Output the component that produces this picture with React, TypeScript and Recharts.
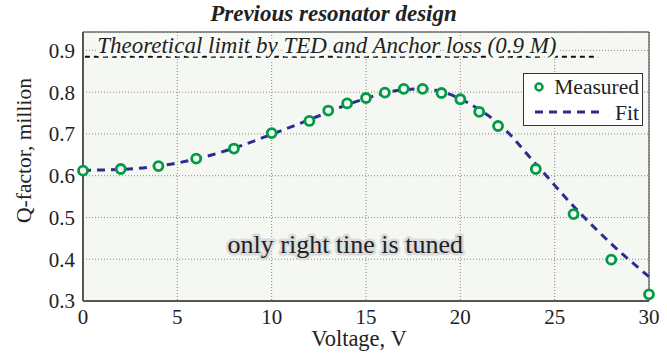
import React from 'react';
import { ComposedChart, Line, XAxis, YAxis, CartesianGrid, ReferenceLine, ReferenceDot } from 'recharts';

const voltages = [0, 2, 4, 6, 8, 10, 12, 13, 14, 15, 16, 17, 18, 19, 20, 21, 22, 24, 26, 28, 30];
const measured = [0.612, 0.616, 0.623, 0.641, 0.665, 0.702, 0.731, 0.756, 0.773, 0.786, 0.799, 0.808, 0.808, 0.798, 0.783, 0.753, 0.719, 0.616, 0.508, 0.399, 0.316];
const fit = [0.613, 0.615, 0.623, 0.640, 0.666, 0.699, 0.734, 0.752, 0.770, 0.785, 0.798, 0.806, 0.808, 0.801, 0.784, 0.758, 0.726, 0.628, 0.527, 0.437, 0.358];
const xTicks = [0, 5, 10, 15, 20, 25, 30];
const yTicks = [0.3, 0.4, 0.5, 0.6, 0.7, 0.8, 0.9];
const limitValue = 0.885;
const limitStart = 0.1;
const limitEnd = 27.3;

const data = voltages.map((v, i) => ({ v, measured: measured[i], fit: fit[i] }));

const GREEN = '#009a48';
const NAVY = '#2d2d8f';
const FONT = "'Liberation Serif', 'Times New Roman', serif";

const LegendBox = () => (
  <div style={{ position: 'absolute', left: 523, top: 73, width: 120, height: 53, background: '#fff', border: '1px solid #333', boxSizing: 'border-box' }}>
    <svg width={118} height={51} style={{ position: 'absolute', left: 0, top: 0 }}>
      <circle cx={15} cy={13} r={3.5} fill="#fff" stroke={GREEN} strokeWidth={2.5} />
      <line x1={11} x2={78} y1={38} y2={38} stroke={NAVY} strokeWidth={3} strokeDasharray="8 6" />
      <text x={115} y={20} textAnchor="end" fontFamily={FONT} fontSize={21.5} fill="#222">Measured</text>
      <text x={115} y={46} textAnchor="end" fontFamily={FONT} fontSize={21.5} fill="#222">Fit</text>
    </svg>
  </div>
);

const YTitle = (props: any) => {
  const vb = props.viewBox || { x: 0, y: 0, width: 0, height: 0 };
  const cx = vb.x - 9;
  const cy = vb.y + vb.height / 2 - 16;
  return (
    <text x={cx} y={cy} transform={`rotate(-90, ${cx}, ${cy})`} textAnchor="middle" dominantBaseline="central" fontFamily={FONT} fontSize={21.5} fill="#222">
      Q-factor, million
    </text>
  );
};

export default function App() {
  return (
    <div style={{ position: 'absolute', left: 0, top: 0, width: 667, height: 354, background: '#fff' }}>
      <div style={{ position: 'absolute', left: 0, top: 0, width: 667, textAlign: 'center', fontFamily: FONT, fontSize: 23, lineHeight: '28px', fontWeight: 'bold', fontStyle: 'italic', color: '#222' }}>
        Previous resonator design
      </div>
      <ComposedChart width={667} height={354} data={data} margin={{ top: 32, right: 18, bottom: 23, left: 33 }} style={{ position: 'absolute', left: 0, top: 0 }}>
        <CartesianGrid fill="#f5f8f2" stroke="#888" strokeDasharray="1 2" vertical={true} horizontal={true} />
        <XAxis
          dataKey="v"
          type="number"
          domain={[0, 30]}
          ticks={xTicks}
          height={30}
          tickLine={false}
          tickSize={6}
          tickMargin={2}
          axisLine={{ stroke: '#555', strokeWidth: 2 }}
          tick={{ fill: '#222', fontFamily: FONT, fontSize: 21 }}
          label={{ value: 'Voltage, V', position: 'bottom', offset: -1, fontFamily: FONT, fontSize: 22.5, fill: '#222', dx: -7 }}
        />
        <YAxis
          type="number"
          domain={[0.3, 0.944]}
          ticks={yTicks}
          width={50}
          tickLine={false}
          tickSize={6}
          tickMargin={2}
          allowDataOverflow={true}
          axisLine={{ stroke: '#555', strokeWidth: 2 }}
          tickFormatter={(t: number) => t.toFixed(1)}
          tick={{ fill: '#222', fontFamily: FONT, fontSize: 21 }}
          label={<YTitle />}
        />
        <ReferenceLine y={0.944} stroke="#333" strokeWidth={1} />
        <ReferenceLine x={30} stroke="#333" strokeWidth={1} />
        <ReferenceLine
          segment={[{ x: limitStart, y: limitValue }, { x: limitEnd, y: limitValue }]}
          stroke="#111"
          strokeWidth={2}
          strokeDasharray="5 4"
        />
        <ReferenceDot
          x={0.75}
          y={0.914}
          r={0}
          fill="none"
          stroke="none"
          label={{
            value: 'Theoretical limit by TED and Anchor loss (0.9 M)',
            position: 'right',
            offset: 0,
            fontFamily: FONT,
            fontSize: 23,
            fontStyle: 'italic',
            fill: '#222',
            stroke: '#f8faf6',
            strokeWidth: 7,
            paintOrder: 'stroke',
            strokeLinejoin: 'round',
          }}
        />
        <ReferenceDot
          x={13.9}
          y={0.436}
          r={0}
          fill="none"
          stroke="none"
          label={{
            value: 'only right tine is tuned',
            position: 'center',
            fontFamily: FONT,
            fontSize: 26,
            fill: '#222',
            stroke: '#dcdcdc',
            strokeWidth: 5,
            paintOrder: 'stroke',
            strokeLinejoin: 'round',
          }}
        />
        <Line
          dataKey="fit"
          type="monotone"
          stroke={NAVY}
          strokeWidth={3}
          strokeDasharray="8 6"
          dot={false}
          activeDot={false}
          isAnimationActive={false}
        />
        <Line
          dataKey="measured"
          stroke="none"
          dot={{ r: 4.5, stroke: GREEN, strokeWidth: 2.8, fill: '#f5f8f2' }}
          activeDot={false}
          isAnimationActive={false}
        />
      </ComposedChart>
      <LegendBox />
    </div>
  );
}
